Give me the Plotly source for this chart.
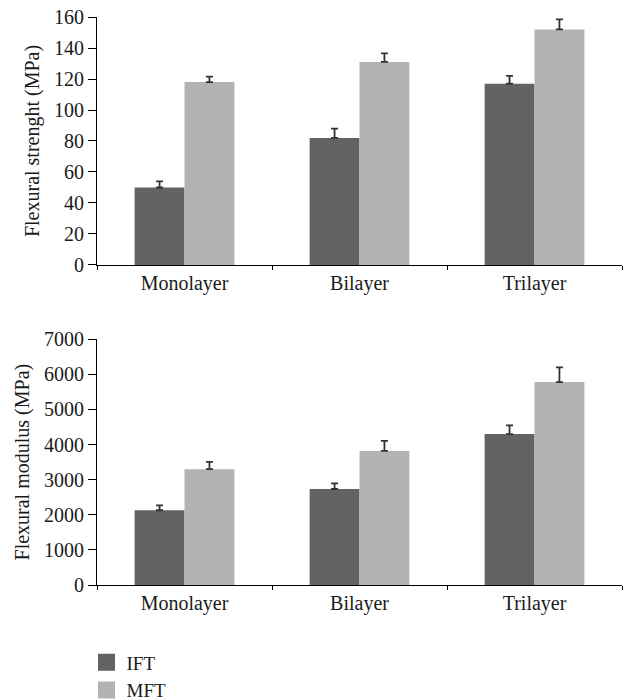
import plotly.graph_objects as go
from plotly.subplots import make_subplots

categories = ["Monolayer", "Bilayer", "Trilayer"]
series_names = ["IFT", "MFT"]
strength_ift = [50, 82, 117]
strength_ift_err = [4, 6, 5]
strength_mft = [118, 131, 152]
strength_mft_err = [3.5, 5.5, 6.5]
modulus_ift = [2130, 2735, 4300]
modulus_ift_err = [140, 160, 250]
modulus_mft = [3300, 3820, 5780]
modulus_mft_err = [210, 285, 420]

dark = "#636363"
light = "#b3b3b3"
errc = "#333333"
font_family = "Liberation Serif, DejaVu Serif, serif"
txt = "#1a1a1a"

fig = make_subplots(rows=2, cols=1, vertical_spacing=0.13)

def add_pair(row, ift, ift_err, mft, mft_err):
    for name, vals, errs, col in ((series_names[0], ift, ift_err, dark),
                                  (series_names[1], mft, mft_err, light)):
        fig.add_trace(go.Bar(
            x=categories, y=vals, name=name, marker_color=col, marker_line_width=0,
            offsetgroup=name,
            error_y=dict(type="data", array=errs, arrayminus=[0]*len(errs), symmetric=False,
                         color=errc, thickness=1.8, width=3.5),
            showlegend=False, legendgroup=name), row=row, col=1)

add_pair(1, strength_ift, strength_ift_err, strength_mft, strength_mft_err)
add_pair(2, modulus_ift, modulus_ift_err, modulus_mft, modulus_mft_err)

# legend entries (larger swatches like the reference)
for name, col in ((series_names[0], dark), (series_names[1], light)):
    fig.add_trace(go.Bar(x=[None], y=[None], name=name, offsetgroup=name,
                         marker=dict(color=col, line=dict(color=col, width=5)),
                         legendgroup=name, showlegend=True, hoverinfo="skip"),
                  row=1, col=1)

axis_common = dict(showline=True, linecolor="black", linewidth=1, ticks="outside",
                   tickcolor="black", showgrid=False, zeroline=False, automargin=False,
                   ticklabeloverflow="allow",
                   tickfont=dict(family=font_family, size=20, color=txt))

fig.update_xaxes(**axis_common, tickson="boundaries", ticklen=4)
fig.update_yaxes(**axis_common, ticklen=8)

title_font = dict(family=font_family, size=20, color=txt)
fig.update_yaxes(range=[0, 160], dtick=20, row=1, col=1,
                 title=dict(text="Flexural strenght (MPa)", font=title_font, standoff=8))
fig.update_yaxes(range=[0, 7000], dtick=1000, row=2, col=1,
                 title=dict(text="Flexural modulus (MPa)", font=title_font, standoff=8))

fig.update_layout(
    width=625, height=700,
    margin=dict(l=97, r=3, t=17, b=115, autoexpand=False),
    plot_bgcolor="white", paper_bgcolor="white",
    barmode="group", bargap=0.43, bargroupgap=0,
    font=dict(family=font_family, size=20, color=txt),
    legend=dict(x=-0.02, y=-0.103, xanchor="left", yanchor="top", orientation="v",
                font=dict(family=font_family, size=19, color=txt),
                tracegroupgap=0, itemwidth=30),
)
fig.update_yaxes(domain=[0.5634, 1.0], row=1, col=1)
fig.update_yaxes(domain=[0.0, 0.4326], row=2, col=1)

fig.write_html("out.html", config={"displayModeBar": False},
               post_script="document.body.style.margin='0';")
